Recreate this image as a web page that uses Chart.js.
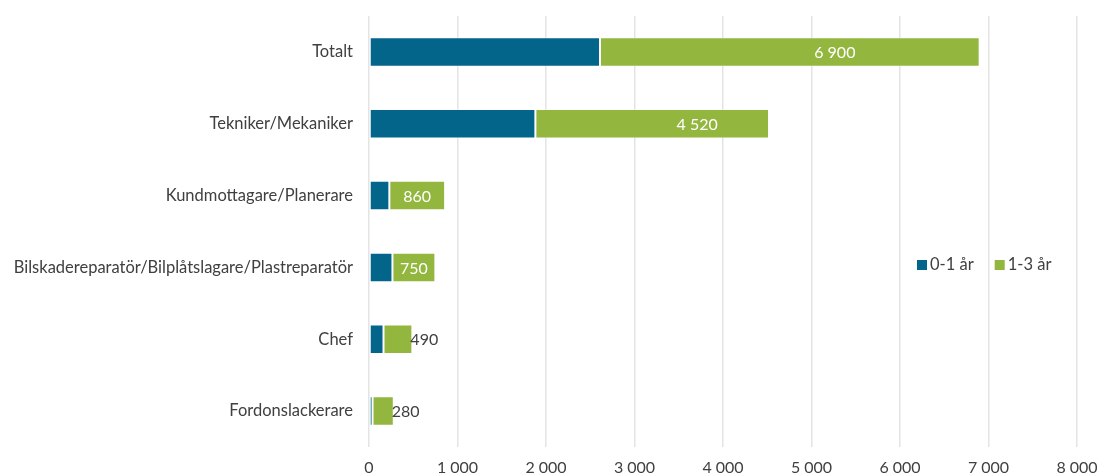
<!DOCTYPE html>
<html>
<head>
<meta charset="utf-8">
<script src="https://cdn.jsdelivr.net/npm/chart.js@4"></script>
<style>
  html, body { margin: 0; padding: 0; background: #fff; }
  #wrap { width: 1100px; height: 476px; }
</style>
</head>
<body>
<div id="wrap"><canvas id="myChart"></canvas></div>
<script>
'use strict';

let categories = [
  'Totalt',
  'Tekniker/Mekaniker',
  'Kundmottagare/Planerare',
  'Bilskadereparatör/Bilplåtslagare/Plastreparatör',
  'Chef',
  'Fordonslackerare'
];
let seriesNames = ['0-1 år', '1-3 år'];
let years01 = [2610, 1880, 230, 265, 164, 40];
let years13 = [4290, 2640, 630, 485, 326, 240];
let totals = [6900, 4520, 860, 750, 490, 280];
let xTicks = [0, 1000, 2000, 3000, 4000, 5000, 6000, 7000, 8000];

let blue = '#03658a';
let green = '#92b63e';
let textColor = '#404040';
let fontName = 'Lato, "Open Sans", sans-serif';

function formatNumber(n) {
  return String(n).replace(/\B(?=(\d{3})+(?!\d))/g, ' ');
}

// total labels on the green part of each bar
const totalLabels = {
  id: 'totalLabels',
  afterDatasetsDraw(chart) {
    let ctx = chart.ctx;
    let meta = chart.getDatasetMeta(1);
    ctx.save();
    ctx.font = '16px ' + fontName;
    ctx.textBaseline = 'middle';
    meta.data.forEach(function (bar, i) {
      let text = formatNumber(totals[i]);
      let start = bar.base;
      let end = bar.x;
      let w = end - start;
      let tw = ctx.measureText(text).width;
      if (tw + 6 < w) {
        ctx.fillStyle = '#ffffff';
        ctx.textAlign = 'center';
        let cx = (start + end) / 2;
        if (w > 150) cx += 45;
        ctx.fillText(text, cx, bar.y + 1);
      } else {
        ctx.fillStyle = textColor;
        ctx.textAlign = 'left';
        ctx.fillText(text, end - 2, bar.y + 1);
      }
    });
    ctx.restore();
  }
};

// legend drawn inside the plot, to the right
const insideLegend = {
  id: 'insideLegend',
  afterDraw(chart) {
    let ctx = chart.ctx;
    let colors = [blue, green];
    let x = 917;
    let y = 265;
    ctx.save();
    ctx.font = '16.5px ' + fontName;
    ctx.textBaseline = 'middle';
    ctx.textAlign = 'left';
    for (let i = 0; i < seriesNames.length; i++) {
      ctx.fillStyle = colors[i];
      ctx.fillRect(x, y - 5, 10, 10);
      ctx.fillStyle = textColor;
      ctx.fillText(seriesNames[i], x + 13, y);
      x += 13 + ctx.measureText(seriesNames[i]).width + 21;
    }
    ctx.restore();
  }
};

const chartData = {
  labels: categories,
  datasets: [
    {
      label: seriesNames[0],
      data: years01,
      backgroundColor: blue,
      borderColor: 'rgba(255, 255, 255, 0.3)',
      borderWidth: 1,
      borderSkipped: false,
      barPercentage: 0.82,
      categoryPercentage: 0.5,
    },
    {
      label: seriesNames[1],
      data: years13,
      backgroundColor: green,
      borderColor: 'rgba(255, 255, 255, 0.3)',
      borderWidth: 1,
      borderSkipped: false,
      barPercentage: 0.82,
      categoryPercentage: 0.5,
    },
  ],
};

const config = {
  type: 'bar',
  data: chartData,
  plugins: [totalLabels, insideLegend],
  options: {
    indexAxis: 'y',
    responsive: true,
    maintainAspectRatio: false,
    animation: false,
    layout: { padding: { top: 16, right: 23, bottom: 0, left: 0 } },
    plugins: {
      legend: { display: false },
      tooltip: { enabled: false },
    },
    scales: {
      x: {
        stacked: true,
        min: 0,
        max: 8000,
        afterBuildTicks(scale) {
          scale.ticks = xTicks.map(function (v) { return { value: v }; });
        },
        afterFit(scale) {
          scale.height = 29;
          scale.paddingLeft = 0;
          scale.paddingRight = 0;
        },
        grid: { color: '#e4e4e4', lineWidth: 1.5, drawTicks: false },
        border: { display: false },
        ticks: {
          color: textColor,
          font: { family: fontName, size: 16 },
          padding: 11,
          callback: function (v) { return formatNumber(v); },
        },
      },
      y: {
        stacked: true,
        grid: { display: false, drawTicks: false },
        border: { display: false },
        afterFit(scale) {
          scale.width = 369;
          scale.paddingTop = 0;
          scale.paddingBottom = 0;
        },
        ticks: {
          color: textColor,
          font: { family: fontName, size: 16.5 },
          padding: 16,
        },
      },
    },
  },
};

let chartCanvas = document.getElementById('myChart').getContext('2d');
const myChart = new Chart(chartCanvas, config);
</script>
</body>
</html>
